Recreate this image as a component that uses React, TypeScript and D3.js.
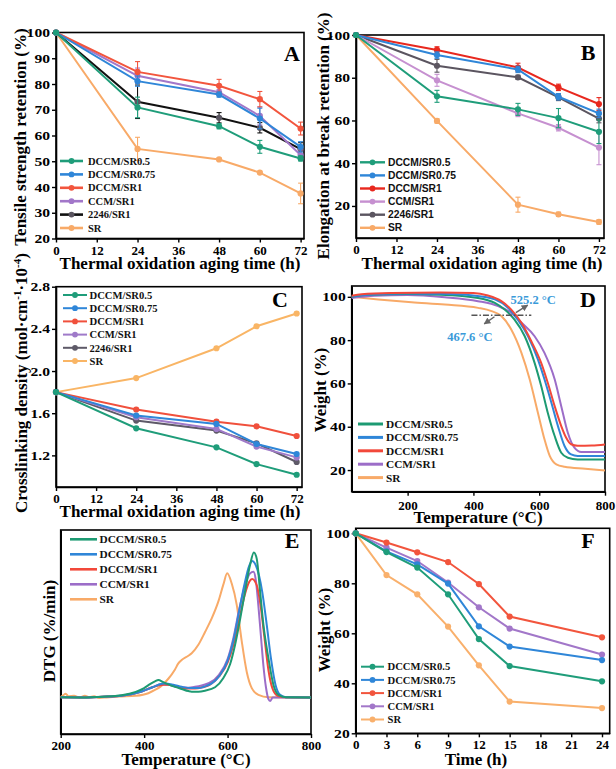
import React, { useRef, useEffect } from "react";
import * as d3 from "d3";

const SERIF = "'Liberation Serif', 'Times New Roman', serif";
const SANS = "'Liberation Sans', Arial, sans-serif";

// ---- Panel A: tensile strength retention (%) ----
const agingHours = [0, 24, 48, 60, 72];
const agingTicks = [0, 12, 24, 36, 48, 60, 72];
const tsDCCM05 = [100, 70.9, 63.6, 55.6, 51.1];
const tsDCCM075 = [100, 81.1, 75.9, 66.6, 55.6];
const tsDCCM1 = [100, 84.7, 79.3, 74.1, 62.7];
const tsCCM1 = [100, 83.2, 76.8, 67.6, 52.4];
const ts2246 = [100, 73.1, 66.9, 63.0, 54.7];
const tsSR = [100, 54.8, 50.7, 45.6, 37.5];
const tsErrDCCM05 = [0, 4, 1, 2.5, 1];
const tsErrDCCM075 = [0, 2, 1, 4, 2];
const tsErrDCCM1 = [0, 4, 2.5, 3, 2.5];
const tsErrCCM1 = [0, 3, 1, 3.5, 2];
const tsErr2246 = [0, 6.5, 2, 2, 2.5];
const tsErrSR = [0, 4.5, 0.5, 0.5, 4];

// ---- Panel B: elongation at break retention (%) ----
const ebDCCM05 = [100, 71.3, 65.2, 61.1, 54.7];
const ebDCCM075 = [100, 90.6, 83.9, 71.1, 63.3];
const ebDCCM1 = [100, 93.0, 84.8, 75.5, 67.7];
const ebCCM1 = [100, 78.8, 63.3, 56.6, 47.3];
const eb2246 = [100, 85.6, 80.2, 70.8, 60.9];
const ebSR = [100, 59.8, 20.6, 16.1, 12.5];
const ebErrDCCM05 = [0, 2.8, 2.8, 4.5, 5.5];
const ebErrDCCM075 = [0, 1.5, 1.5, 1.5, 2];
const ebErrDCCM1 = [0, 1.5, 2, 1.5, 3];
const ebErrCCM1 = [0, 2.8, 1.5, 1.5, 8];
const ebErr2246 = [0, 3, 1, 1.5, 2];
const ebErrSR = [0, 1, 3.5, 1, 1];

// ---- Panel C: crosslinking density ----
const cdDCCM05 = [1.8, 1.457, 1.276, 1.117, 1.016];
const cdDCCM075 = [1.8, 1.578, 1.498, 1.308, 1.213];
const cdDCCM1 = [1.8, 1.635, 1.52, 1.476, 1.384];
const cdCCM1 = [1.8, 1.562, 1.451, 1.283, 1.181];
const cd2246 = [1.8, 1.53, 1.435, 1.314, 1.137];
const cdSR = [1.8, 1.933, 2.216, 2.425, 2.546];
const cdTicks = [1.2, 1.6, 2.0, 2.4, 2.8];

// ---- Panel D: TGA weight (%) vs temperature ----
const tgaDCCM05: [number, number][] = [[30, 100], [80, 101], [200, 101.3], [300, 101], [414, 99.5], [465, 97.2], [495, 94.1], [525, 89.5], [556, 81.8], [586, 69.5], [606, 58.8], [626, 46.5], [647, 35.7], [667, 28], [687, 25.7], [717, 24.9], [800, 24.9]];
const tgaDCCM075: [number, number][] = [[30, 100.2], [80, 101], [200, 101.5], [300, 101.4], [400, 100.6], [465, 98.8], [505, 94.9], [535, 89.5], [566, 81.8], [596, 71.1], [616, 61.9], [637, 51.1], [657, 40.3], [677, 31.1], [697, 27.2], [717, 26.5], [800, 26.5]];
const tgaDCCM1: [number, number][] = [[30, 100.5], [60, 101.2], [150, 101.8], [300, 102], [400, 101.8], [444, 100.6], [485, 98], [515, 94.1], [546, 88], [576, 79.5], [606, 69.5], [626, 60.3], [647, 49.5], [667, 40.3], [682, 34.9], [697, 31.9], [717, 31.2], [760, 31.3], [800, 31.8]];
const tgaCCM1: [number, number][] = [[30, 99.5], [100, 100.5], [200, 100.8], [313, 99.8], [414, 98], [475, 95.7], [515, 92.6], [546, 88], [586, 81.8], [616, 74.1], [647, 61.9], [667, 49.5], [687, 37.2], [707, 30.3], [728, 28.3], [800, 28.3]];
const tgaSR: [number, number][] = [[30, 100], [111, 98.8], [212, 97.5], [313, 96.4], [414, 94.9], [455, 93.4], [485, 91.1], [515, 84.9], [546, 74.1], [571, 61.9], [596, 46.5], [616, 34.2], [632, 26.5], [652, 22.6], [677, 21.5], [740, 20.6], [800, 19.8]];
const tempTicks = [200, 400, 600, 800];
const weightTicks = [20, 40, 60, 80, 100];

// ---- Panel E: DTG (%/min) ----
const dtgDCCM05: [number, number][] = [[200, 0.32], [250, 0.3], [300, 0.38], [346, 0.55], [380, 0.95], [400, 1.4], [415, 1.9], [426, 2.2], [434, 2.35], [446, 2.1], [458, 1.84], [474, 1.55], [490, 1.3], [506, 1.05], [514, 0.98], [530, 0.98], [546, 1.1], [570, 1.5], [590, 2.6], [606, 4.2], [618, 6.5], [630, 9.5], [642, 12.8], [654, 15.9], [663, 17.35], [670, 16.6], [678, 12.75], [686, 8.8], [698, 4.9], [710, 1.77], [722, 0.6], [740, 0.32], [800, 0.3]];
const dtgDCCM075: [number, number][] = [[200, 0.32], [250, 0.3], [300, 0.38], [346, 0.5], [394, 1.0], [420, 1.5], [442, 1.9], [450, 1.95], [470, 1.8], [490, 1.55], [510, 1.4], [530, 1.4], [546, 1.6], [562, 1.95], [580, 2.8], [600, 4.6], [614, 7.0], [628, 10.5], [640, 13.5], [652, 15.8], [659, 16.35], [668, 15.8], [683, 12.75], [694, 8.8], [704, 4.9], [715, 1.77], [726, 0.6], [740, 0.32], [800, 0.3]];
const dtgDCCM1: [number, number][] = [[200, 0.32], [250, 0.3], [300, 0.38], [346, 0.5], [394, 1.0], [420, 1.5], [446, 1.8], [458, 1.8], [474, 1.65], [490, 1.45], [506, 1.35], [522, 1.35], [540, 1.5], [556, 1.75], [580, 2.8], [600, 4.4], [614, 6.5], [628, 9.5], [642, 12.5], [652, 13.9], [659, 14.24], [670, 13.5], [680, 10.8], [688, 7.5], [698, 3.5], [708, 1.3], [720, 0.5], [740, 0.32], [800, 0.3]];
const dtgCCM1: [number, number][] = [[200, 0.32], [250, 0.3], [300, 0.38], [346, 0.5], [394, 1.0], [420, 1.5], [440, 1.85], [458, 1.8], [474, 1.6], [490, 1.5], [506, 1.45], [522, 1.55], [540, 1.75], [556, 2.0], [580, 3.0], [600, 4.8], [614, 7.3], [628, 10.7], [642, 13.5], [654, 14.9], [662, 15.1], [668, 14.0], [674, 11.0], [680, 7.5], [686, 4.0], [692, 1.5], [698, 0.1], [702, -0.12], [708, 0.28], [740, 0.3], [800, 0.3]];
const dtgSR: [number, number][] = [[200, 0.35], [206, 0.55], [212, 0.75], [218, 0.45], [232, 0.5], [245, 0.3], [258, 0.5], [268, 0.35], [280, 0.45], [292, 0.25], [310, 0.3], [340, 0.4], [380, 0.5], [410, 0.8], [426, 1.18], [440, 1.6], [458, 2.5], [474, 3.6], [482, 4.3], [490, 4.7], [506, 5.2], [514, 5.5], [530, 6.5], [546, 8.0], [562, 9.6], [578, 11.6], [590, 13.6], [599, 14.9], [610, 13.7], [622, 11.2], [634, 6.9], [646, 3.3], [658, 1.4], [674, 0.6], [698, 0.32], [800, 0.3]];

// ---- Panel F: weight (%) vs time ----
const burnHours = [0, 3, 6, 9, 12, 15, 24];
const burnTicks = [0, 3, 6, 9, 12, 15, 18, 21, 24];
const fDCCM05 = [100, 92.5, 86.3, 75.6, 57.7, 46.9, 40.8];
const fDCCM075 = [100, 92.8, 87.6, 79.9, 62.8, 54.7, 49.3];
const fDCCM1 = [100, 96.3, 92.4, 88.5, 79.7, 66.7, 58.4];
const fCCM1 = [100, 94.3, 88.9, 80.3, 70.4, 61.9, 51.5];
const fSR = [100, 83.3, 75.6, 62.7, 47.2, 32.7, 30.1];

const GREEN = "#1f9d7a";
const BLUE = "#2f86d8";
const RED = "#f2553d";
const PURPLE = "#a277c9";
const ORANGE = "#f8aa68";

function axes(svg: any, box: any, x: any, y: any, o: any) {
  const xa = svg.append("g").attr("transform", `translate(0,${box.b})`)
    .call(d3.axisBottom(x).tickValues(o.xTicks).tickSize(4).tickSizeOuter(0).tickPadding(o.xPad).tickFormat(d3.format("d")));
  const ya = svg.append("g").attr("transform", `translate(${box.l},0)`)
    .call(o.yTicks
      ? d3.axisLeft(y).tickValues(o.yTicks).tickSize(4).tickSizeOuter(0).tickPadding(2).tickFormat(o.yFmt || d3.format("d"))
      : d3.axisLeft(y).tickValues([]).tickSizeOuter(0));
  [xa, ya].forEach((a) => {
    a.attr("font-family", SERIF).attr("font-size", 13).attr("font-weight", "bold");
    a.selectAll("line").attr("stroke-width", 1.4);
    a.select(".domain").attr("stroke-width", 1.6);
  });
  // the y tick numbers in the figure are drawn wider than they are tall
  ya.selectAll("text").attr("font-size", 12.5).attr("transform", "scale(1.25,1)").attr("x", -6 / 1.25);
  svg.append("rect").attr("x", box.l).attr("y", box.t).attr("width", box.r - box.l).attr("height", box.b - box.t)
    .attr("fill", "none").attr("stroke", "#000").attr("stroke-width", 1.6);
}

function pointSeries(svg: any, x: any, y: any, xs: number[], list: any[], lw: number) {
  list.forEach((s) => {
    const g = svg.append("g");
    if (s.err) {
      s.err.forEach((e: number, i: number) => {
        if (!e) return;
        const cx = x(xs[i]);
        g.append("line").attr("x1", cx).attr("x2", cx).attr("y1", y(s.vals[i] - e)).attr("y2", y(s.vals[i] + e)).attr("stroke", s.color).attr("stroke-width", 1.1);
        [s.vals[i] - e, s.vals[i] + e].forEach((v) => {
          g.append("line").attr("x1", cx - 2.5).attr("x2", cx + 2.5).attr("y1", y(v)).attr("y2", y(v)).attr("stroke", s.color).attr("stroke-width", 1.1);
        });
      });
    }
    const line = d3.line<number>().x((d, i) => x(xs[i])).y((d) => y(d));
    g.append("path").attr("d", line(s.vals)).attr("fill", "none").attr("stroke", s.color).attr("stroke-width", lw);
    g.selectAll("circle").data(s.vals).enter().append("circle")
      .attr("cx", (d: number, i: number) => x(xs[i])).attr("cy", (d: number) => y(d)).attr("r", 3.1)
      .attr("fill", s.dot || s.color);
  });
}

function curveSeries(svg: any, x: any, y: any, list: any[], lw: number) {
  const line = d3.line<[number, number]>().x((d) => x(d[0])).y((d) => y(d[1])).curve(d3.curveMonotoneX);
  list.forEach((s) => {
    svg.append("path").attr("d", line(s.pts)).attr("fill", "none").attr("stroke", s.color).attr("stroke-width", lw).attr("stroke-linejoin", "round");
  });
}

function legend(svg: any, items: any[], o: any) {
  items.forEach((s, i) => {
    const yy = o.y0 + i * o.dy;
    svg.append("line").attr("x1", o.x0).attr("x2", o.x1).attr("y1", yy).attr("y2", yy).attr("stroke", s.color).attr("stroke-width", o.lw);
    if (o.dots) svg.append("circle").attr("cx", (o.x0 + o.x1) / 2).attr("cy", yy).attr("r", 2.9).attr("fill", s.dot || s.color);
    svg.append("text").attr("x", o.tx).attr("y", yy).attr("dy", "0.35em").attr("font-family", o.font || SERIF)
      .attr("font-size", o.size).attr("font-weight", "bold").attr("fill", "#111").text(s.name);
  });
}

function label(svg: any, text: string, x: number, y: number, size: number, rotate = false, anchor = "middle") {
  return svg.append("text").attr("transform", `translate(${x},${y})${rotate ? " rotate(-90)" : ""}`)
    .attr("text-anchor", anchor).attr("font-family", SERIF).attr("font-size", size).attr("font-weight", "bold").attr("fill", "#000").text(text);
}

export default function App() {
  const ref = useRef<SVGSVGElement>(null);

  useEffect(() => {
    const svg = d3.select(ref.current);
    svg.selectAll("*").remove();

    // ---------- A ----------
    const A = { l: 56, t: 32.5, r: 304, b: 238.5 };
    const xA = d3.scaleLinear().domain([0, 73]).range([A.l, A.r]);
    const yA = d3.scaleLinear().domain([20, 100]).range([A.b, A.t]);
    const listA = [
      { name: "DCCM/SR0.5", color: GREEN, vals: tsDCCM05, err: tsErrDCCM05 },
      { name: "DCCM/SR0.75", color: BLUE, vals: tsDCCM075, err: tsErrDCCM075 },
      { name: "DCCM/SR1", color: RED, vals: tsDCCM1, err: tsErrDCCM1 },
      { name: "CCM/SR1", color: PURPLE, vals: tsCCM1, err: tsErrCCM1 },
      { name: "2246/SR1", color: "#111", dot: "#5a5560", vals: ts2246, err: tsErr2246 },
      { name: "SR", color: ORANGE, vals: tsSR, err: tsErrSR },
    ];
    axes(svg, A, xA, yA, { xTicks: agingTicks, yTicks: d3.range(20, 101, 10), xPad: 3 });
    pointSeries(svg, xA, yA, agingHours, listA.slice().reverse(), 2);
    legend(svg, listA, { x0: 60, x1: 83, tx: 88, y0: 161, dy: 13.4, size: 10.5, lw: 2.6, dots: true });
    label(svg, "A", 292, 61, 22);
    label(svg, "Tensile strength retention (%)", 26, 137, 17, true);
    label(svg, "Thermal oxidation aging time (h)", 180, 268.5, 17);

    // ---------- B ----------
    const B = { l: 356, t: 35, r: 604, b: 238 };
    const xB = d3.scaleLinear().domain([0, 73.5]).range([B.l, B.r]);
    const yB = d3.scaleLinear().domain([5, 100]).range([B.b, B.t]);
    const listB = [
      { name: "DCCM/SR0.5", color: GREEN, vals: ebDCCM05, err: ebErrDCCM05 },
      { name: "DCCM/SR0.75", color: BLUE, vals: ebDCCM075, err: ebErrDCCM075 },
      { name: "DCCM/SR1", color: "#e8281e", vals: ebDCCM1, err: ebErrDCCM1 },
      { name: "CCM/SR1", color: "#c690d0", vals: ebCCM1, err: ebErrCCM1 },
      { name: "2246/SR1", color: "#5b5560", vals: eb2246, err: ebErr2246 },
      { name: "SR", color: ORANGE, vals: ebSR, err: ebErrSR },
    ];
    axes(svg, B, xB, yB, { xTicks: agingTicks, yTicks: weightTicks, xPad: 3 });
    pointSeries(svg, xB, yB, agingHours, listB.slice().reverse(), 2);
    legend(svg, listB, { x0: 360, x1: 385, tx: 388, y0: 162.3, dy: 13.1, size: 10.3, lw: 2.4, dots: true, font: SANS });
    label(svg, "B", 588, 60, 22);
    label(svg, "Elongation at break retention (%)", 329, 136, 17, true);
    label(svg, "Thermal oxidation aging time (h)", 482, 268.5, 17);

    // ---------- C ----------
    const C = { l: 56, t: 286.7, r: 302, b: 487 };
    const xC = d3.scaleLinear().domain([0, 73.6]).range([C.l, C.r]);
    const yC = d3.scaleLinear().domain([0.9, 2.8]).range([C.b, C.t]);
    const listC = [
      { name: "DCCM/SR0.5", color: GREEN, vals: cdDCCM05 },
      { name: "DCCM/SR0.75", color: BLUE, vals: cdDCCM075 },
      { name: "DCCM/SR1", color: "#f0503c", vals: cdDCCM1 },
      { name: "CCM/SR1", color: "#9f7ac9", vals: cdCCM1 },
      { name: "2246/SR1", color: "#5e5a68", vals: cd2246 },
      { name: "SR", color: "#f9b565", vals: cdSR },
    ];
    axes(svg, C, xC, yC, { xTicks: agingTicks, yTicks: cdTicks, yFmt: d3.format(".1f"), xPad: 3 });
    pointSeries(svg, xC, yC, agingHours, listC.slice().reverse(), 2);
    legend(svg, listC, { x0: 63, x1: 87, tx: 89.5, y0: 295, dy: 13.2, size: 10.6, lw: 2, dots: true });
    label(svg, "C", 280, 307, 22);
    const cl = svg.append("text").attr("transform", "translate(27,383) rotate(-90)").attr("text-anchor", "middle")
      .attr("font-family", SERIF).attr("font-size", 17).attr("font-weight", "bold");
    cl.append("tspan").text("Crosslinking density (mol·cm");
    cl.append("tspan").attr("dy", -6).attr("font-size", 11).text("-1");
    cl.append("tspan").attr("dy", 6).text("·10");
    cl.append("tspan").attr("dy", -6).attr("font-size", 11).text("-4");
    cl.append("tspan").attr("dy", 6).text(")");
    label(svg, "Thermal oxidation aging time (h)", 180, 516.5, 17);

    // ---------- D ----------
    const D = { l: 351.7, t: 286, r: 605, b: 491.7 };
    const xD = d3.scaleLinear().domain([30, 800]).range([D.l, D.r]);
    const yD = d3.scaleLinear().domain([10, 105]).range([D.b, D.t]);
    const listD = [
      { name: "DCCM/SR0.5", color: "#1d9a72", pts: tgaDCCM05 },
      { name: "DCCM/SR0.75", color: BLUE, pts: tgaDCCM075 },
      { name: "DCCM/SR1", color: "#f2483a", pts: tgaDCCM1 },
      { name: "CCM/SR1", color: "#9c6dc8", pts: tgaCCM1 },
      { name: "SR", color: ORANGE, pts: tgaSR },
    ];
    axes(svg, D, xD, yD, { xTicks: tempTicks, yTicks: weightTicks, xPad: 5.5 });
    curveSeries(svg, xD, yD, [listD[4], listD[3], listD[0], listD[1], listD[2]], 2);
    legend(svg, listD, { x0: 358, x1: 383, tx: 386, y0: 424, dy: 13.4, size: 11.3, lw: 3 });
    label(svg, "D", 588, 307, 22);
    label(svg, "Weight (%)", 326, 390, 17, true);
    label(svg, "Temperature (°C)", 478, 523, 17);
    // onset annotation
    const defs = svg.append("defs");
    defs.append("marker").attr("id", "arr").attr("viewBox", "0 0 10 10").attr("refX", 9).attr("refY", 5)
      .attr("markerWidth", 4.5).attr("markerHeight", 4.5).attr("orient", "auto")
      .append("path").attr("d", "M0,0L10,5L0,10z").attr("fill", "#666");
    svg.append("line").attr("x1", xD(394)).attr("x2", xD(576)).attr("y1", yD(91.5)).attr("y2", yD(91.5))
      .attr("stroke", "#555").attr("stroke-width", 1.3).attr("stroke-dasharray", "6,2,1.5,2");
    svg.append("line").attr("x1", xD(529)).attr("y1", yD(92.7)).attr("x2", xD(565)).attr("y2", yD(96.2))
      .attr("stroke", "#666").attr("stroke-width", 1.5).attr("marker-end", "url(#arr)");
    svg.append("line").attr("x1", xD(464)).attr("y1", yD(90.8)).attr("x2", xD(433)).attr("y2", yD(87.5))
      .attr("stroke", "#666").attr("stroke-width", 1.5).attr("marker-end", "url(#arr)");
    svg.append("text").attr("x", xD(513)).attr("y", yD(98.6)).attr("dy", "0.35em").attr("font-family", SERIF)
      .attr("font-size", 12.5).attr("font-weight", "bold").attr("fill", "#3a9ad9").text("525.2 °C");
    svg.append("text").attr("x", xD(458)).attr("y", yD(81.6)).attr("dy", "0.35em").attr("text-anchor", "end").attr("font-family", SERIF)
      .attr("font-size", 12.5).attr("font-weight", "bold").attr("fill", "#3a9ad9").text("467.6 °C");

    // ---------- E ----------
    const E = { l: 60.7, t: 530, r: 311, b: 734 };
    const xE = d3.scaleLinear().domain([200, 800]).range([E.l, E.r]);
    const yE = d3.scaleLinear().domain([-4, 20]).range([E.b, E.t]);
    const listE = [
      { name: "DCCM/SR0.5", color: "#1d9a72", pts: dtgDCCM05 },
      { name: "DCCM/SR0.75", color: BLUE, pts: dtgDCCM075 },
      { name: "DCCM/SR1", color: "#f2483a", pts: dtgDCCM1 },
      { name: "CCM/SR1", color: "#9c6dc8", pts: dtgCCM1 },
      { name: "SR", color: ORANGE, pts: dtgSR },
    ];
    axes(svg, E, xE, yE, { xTicks: tempTicks, xPad: 3 });
    curveSeries(svg, xE, yE, [listE[4], listE[3], listE[2], listE[1], listE[0]], 2);
    legend(svg, listE, { x0: 70, x1: 97, tx: 99.5, y0: 539.3, dy: 15, size: 11.3, lw: 2.6 });
    label(svg, "E", 292, 548, 22);
    label(svg, "DTG (%/min)", 55, 631, 17, true);
    label(svg, "Temperature (°C)", 186, 765, 17);

    // ---------- F ----------
    const F = { l: 355.7, t: 528.3, r: 609.7, b: 733.3 };
    const xF = d3.scaleLinear().domain([0, 24.75]).range([F.l, F.r]);
    const yF = d3.scaleLinear().domain([20, 102]).range([F.b, F.t]);
    const listF = [
      { name: "DCCM/SR0.5", color: GREEN, vals: fDCCM05 },
      { name: "DCCM/SR0.75", color: BLUE, vals: fDCCM075 },
      { name: "DCCM/SR1", color: RED, vals: fDCCM1 },
      { name: "CCM/SR1", color: PURPLE, vals: fCCM1 },
      { name: "SR", color: "#f9b06c", vals: fSR },
    ];
    axes(svg, F, xF, yF, { xTicks: burnTicks, yTicks: weightTicks, xPad: 2 });
    pointSeries(svg, xF, yF, burnHours, listF.slice().reverse(), 2);
    legend(svg, listF, { x0: 361, x1: 384, tx: 387.5, y0: 666.7, dy: 13.2, size: 10.6, lw: 2, dots: true });
    label(svg, "F", 588, 548, 22);
    label(svg, "Weight (%)", 330, 630, 17, true);
    label(svg, "Time (h)", 476, 765, 17);
  }, []);

  return (
    <svg ref={ref} width={616} height={769}
      style={{ position: "absolute", left: 0, top: 0, background: "#fff", display: "block" }} />
  );
}
